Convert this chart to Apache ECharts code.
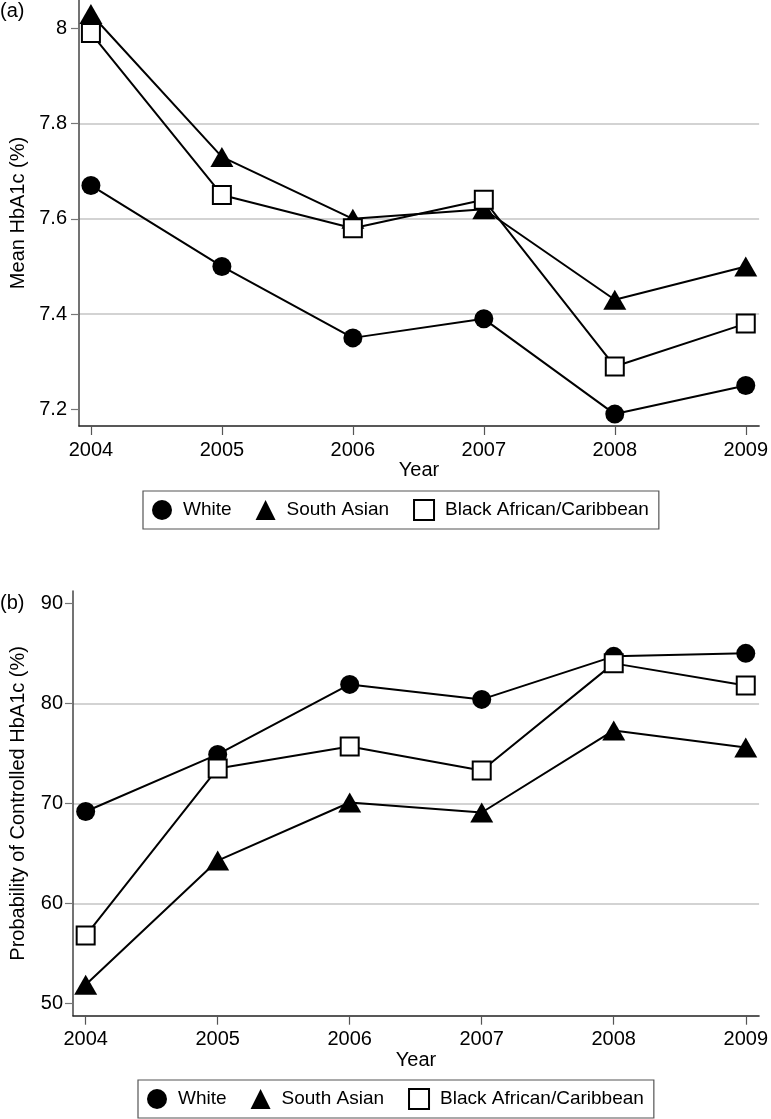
<!DOCTYPE html>
<html>
<head>
<meta charset="utf-8">
<script src="https://cdn.jsdelivr.net/npm/echarts@6/dist/echarts.min.js"></script>
<style>
html,body{margin:0;padding:0;background:#fff;}
#chart{width:771px;height:1119px;}
</style>
</head>
<body>
<div id="chart"></div>
<script>
const years = [2004, 2005, 2006, 2007, 2008, 2009];
const seriesNames = ['White', 'South Asian', 'Black African/Caribbean'];

// Panel (a): Mean HbA1c (%)
const meanWhite = [7.67, 7.50, 7.35, 7.39, 7.19, 7.25];
const meanSouthAsian = [8.03, 7.73, 7.60, 7.62, 7.43, 7.50];
const meanBlack = [7.99, 7.65, 7.58, 7.64, 7.29, 7.38];
const meanTicks = [7.2, 7.4, 7.6, 7.8, 8];

// Panel (b): Probability of Controlled HbA1c (%)
const probWhite = [69.2, 74.9, 81.9, 80.4, 84.7, 85.0];
const probSouthAsian = [51.9, 64.3, 70.1, 69.1, 77.3, 75.6];
const probBlack = [56.8, 73.5, 75.7, 73.3, 84.0, 81.8];
const probTicks = [50, 60, 70, 80, 90];

const FONT = 'Liberation Sans, Arial, Helvetica, sans-serif';
const pair = (arr) => years.map((y, i) => [y, arr[i]]);

const markerStyles = [
  { symbol: 'circle', symbolSize: 19, itemStyle: { color: '#000', borderWidth: 0 } },
  { symbol: 'triangle', symbolSize: [23, 20], itemStyle: { color: '#000', borderWidth: 0 } },
  { symbol: 'rect', symbolSize: 18, itemStyle: { color: '#fff', borderColor: '#000', borderWidth: 2 } }
];

function makeSeries(dataArrs, gridIdx) {
  return dataArrs.map((arr, i) => ({
    type: 'line',
    name: seriesNames[i],
    xAxisIndex: gridIdx,
    yAxisIndex: gridIdx,
    data: pair(arr),
    symbol: markerStyles[i].symbol,
    symbolSize: markerStyles[i].symbolSize,
    itemStyle: markerStyles[i].itemStyle,
    lineStyle: { color: '#000', width: 2 },
    clip: false,
    animation: false,
    z: 2 + i
  }));
}

function xAxisDef(gridIdx, min, max) {
  return {
    type: 'value',
    gridIndex: gridIdx,
    min: min,
    max: max,
    name: 'Year',
    nameLocation: 'middle',
    nameGap: 32,
    nameTextStyle: { fontFamily: FONT, fontSize: 20, color: '#000' },
    axisLine: { show: true, onZero: false, lineStyle: { color: '#222', width: 1.5 } },
    axisTick: { show: true, length: 9, lineStyle: { color: '#555', width: 1.2 }, customValues: years },
    axisLabel: { fontFamily: FONT, fontSize: 20, color: '#000', margin: 14, customValues: years,
                 formatter: (v) => String(Math.round(v)) },
    splitLine: { show: false }
  };
}

function yAxisDef(gridIdx, min, max, ticks, name, nameGap, labelMargin) {
  return {
    type: 'value',
    gridIndex: gridIdx,
    min: min,
    max: max,
    name: name,
    nameLocation: 'middle',
    nameGap: nameGap,
    nameTextStyle: { fontFamily: FONT, fontSize: 20, color: '#000' },
    axisLine: { show: true, onZero: false, lineStyle: { color: '#444', width: 1.5 } },
    axisTick: { show: true, length: 8, lineStyle: { color: '#777', width: 1.2 }, customValues: ticks },
    axisLabel: { fontFamily: FONT, fontSize: 20, color: '#000', margin: labelMargin, customValues: ticks },
    splitLine: { show: true, showMinLine: false, showMaxLine: false, lineStyle: { color: '#c4c4c4', width: 1.5 } }
  };
}

function legendDef(left, top) {
  return {
    left: left,
    top: top,
    orient: 'horizontal',
    data: [
      { name: seriesNames[0], icon: 'circle' },
      { name: seriesNames[1], icon: 'triangle' },
      { name: seriesNames[2], icon: 'rect', itemStyle: { color: '#fff', borderColor: '#000', borderWidth: 2 } }
    ],
    itemWidth: 20,
    itemHeight: 20,
    itemGap: 24,
    padding: [8, 10, 8, 9],
    borderColor: '#555',
    borderWidth: 1.2,
    selectedMode: false,
    textStyle: { fontFamily: FONT, fontSize: 19, color: '#000', padding: [0, 0, 0, 6] }
  };
}

const chart = echarts.init(document.getElementById('chart'), null, { renderer: 'canvas' });
chart.setOption({
  backgroundColor: '#fff',
  animation: false,
  title: [
    { text: '(a)', left: 0, top: 1, padding: 0, textStyle: { fontFamily: FONT, fontSize: 20, fontWeight: 'normal', color: '#000' } },
    { text: '(b)', left: 0, top: 593, padding: 0, textStyle: { fontFamily: FONT, fontSize: 20, fontWeight: 'normal', color: '#000' } }
  ],
  grid: [
    { left: 79, right: 9.3, top: 0, bottom: 693 },
    { left: 73, right: 9.3, top: 591, bottom: 103.3 }
  ],
  xAxis: [
    xAxisDef(0, 2003.909, 2009.102),
    xAxisDef(1, 2003.904, 2009.101)
  ],
  yAxis: [
    yAxisDef(0, 7.165, 8.0594, meanTicks, 'Mean HbA1c (%)', 51, 12),
    yAxisDef(1, 48.80, 91.23, probTicks, 'Probability of Controlled HbA1c (%)', 45, 10)
  ],
  legend: [
    legendDef(143, 491),
    legendDef(138, 1080)
  ],
  series: makeSeries([meanWhite, meanSouthAsian, meanBlack], 0)
    .concat(makeSeries([probWhite, probSouthAsian, probBlack], 1))
});
</script>
</body>
</html>
